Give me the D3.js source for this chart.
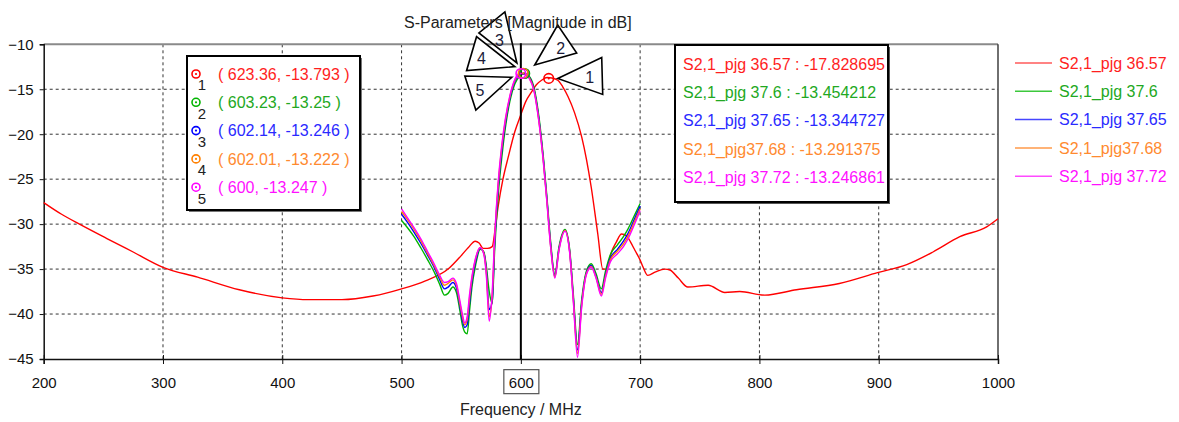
<!DOCTYPE html>
<html><head><meta charset="utf-8">
<script src="https://cdn.jsdelivr.net/npm/d3@7"></script>
<style>
html,body{margin:0;padding:0;background:#fff;}
svg{display:block;font-family:"Liberation Sans",Arial,sans-serif;}
</style></head>
<body><svg id="chart" width="1179" height="422"></svg>
<script>
// ---------- data ----------
const seriesNames = ["S2,1_pjg 36.57","S2,1_pjg 37.6","S2,1_pjg 37.65","S2,1_pjg37.68","S2,1_pjg 37.72"];
const seriesColors = ["#ff0000","#00b400","#0000ff","#ff8000","#ff00ff"];
const legendLineColors = ["#ff5a5a","#3cc83c","#4646ff","#ff9a4a","#ff4aff"];
const textColors = ["#ff1e1e","#22a822","#2a2aff","#ff8a30","#ff10ff"];

const freqWide = [200,215,230,253,275,300,329,364,400,422,450,476,500,520,539,550,556,561.7,565,568.5,572,576,578.5,581,585,589.5,595,600,604,609,613,617.4,622,626,631,635,639.5,645,651,655,659,664.5,668.7,671.8,676,680,684.4,688.6,692,695.6,700,702.5,706.4,713,720.7,725,732,740,757,771,783.5,804.5,831,867,899,923.5,945.5,968,990.5,1000];
const s3657 = [-27.6,-28.9,-30.0,-31.6,-33.1,-34.8,-35.9,-37.3,-38.2,-38.4,-38.4,-38.0,-37.2,-36.3,-35.0,-33.5,-32.6,-31.9,-32.1,-32.7,-32.7,-32.5,-30.5,-28.0,-25.0,-22.5,-19.7,-17.83,-16.4,-15.3,-14.5,-14.0,-13.7,-13.75,-14.0,-14.7,-15.8,-17.6,-20.3,-22.8,-25.9,-31.1,-35.0,-35.0,-33.1,-32.0,-31.1,-31.3,-32.0,-32.9,-34.0,-34.8,-35.7,-35.3,-35.0,-35.1,-36.0,-37.0,-36.8,-37.6,-37.5,-37.9,-37.3,-36.6,-35.4,-34.5,-33.1,-31.4,-30.3,-29.4];

const freqBand = [500,505,510,516,522,528,532,536,539,543,546,549,551,553,555,557,559,562,566,569,571,573.5,576,578,581,584,587,591,595,599,601,603,607,611,615,619,622,625,628.5,632,637,641,644,647.5,651,655,659,663,667.5,671,675,681,686,690,695,700];
const s376  = [-29.6,-30.4,-31.3,-32.6,-34.0,-35.5,-36.7,-37.9,-37.7,-37.0,-37.6,-39.7,-41.2,-42.0,-42.2,-39.6,-37.0,-34.6,-32.8,-33.1,-34.6,-37.5,-38.8,-33.0,-26.8,-22.6,-19.3,-16.2,-14.4,-13.55,-13.35,-13.25,-13.55,-14.8,-17.9,-22.7,-27.2,-32.0,-35.6,-32.5,-30.6,-32.9,-37.8,-43.4,-38.4,-35.2,-34.4,-35.5,-37.2,-35.2,-33.4,-32.3,-31.4,-30.5,-29.1,-27.7];
const s3765 = [-28.9,-29.8,-30.8,-32.1,-33.5,-35.0,-36.2,-37.2,-37.0,-36.5,-37.1,-39.2,-40.7,-41.5,-41.2,-38.8,-36.4,-34.2,-32.7,-33.2,-35.0,-39.5,-38.6,-32.3,-26.0,-21.9,-18.8,-15.9,-14.1,-13.35,-13.26,-13.27,-13.65,-15.0,-18.2,-23.0,-27.5,-32.3,-35.8,-32.7,-30.7,-33.1,-38.2,-44.0,-38.8,-35.4,-34.6,-35.8,-37.6,-35.6,-33.8,-32.8,-31.9,-31.0,-29.5,-28.0];
const s3768 = [-28.6,-29.5,-30.5,-31.8,-33.3,-34.8,-35.9,-36.8,-36.6,-36.2,-36.8,-38.9,-40.3,-41.2,-40.6,-38.2,-36.0,-33.9,-32.6,-33.3,-35.3,-40.3,-38.0,-31.8,-25.6,-21.5,-18.5,-15.7,-14.0,-13.3,-13.23,-13.25,-13.7,-15.1,-18.4,-23.2,-27.7,-32.5,-35.9,-32.8,-30.7,-33.2,-38.4,-44.4,-39.0,-35.5,-34.7,-35.9,-37.8,-35.8,-34.0,-33.0,-32.2,-31.3,-29.8,-28.3];
const s3772 = [-28.3,-29.3,-30.3,-31.6,-33.1,-34.6,-35.7,-36.5,-36.4,-36.0,-36.6,-38.6,-40.0,-41.0,-40.3,-37.8,-35.8,-33.8,-32.6,-33.4,-35.6,-40.8,-37.5,-31.5,-25.3,-21.2,-18.3,-15.6,-13.9,-13.28,-13.25,-13.3,-13.8,-15.2,-18.5,-23.3,-27.8,-32.6,-36.0,-32.9,-30.8,-33.3,-38.6,-44.8,-39.2,-35.6,-34.8,-36.0,-38.0,-36.0,-34.2,-33.3,-32.5,-31.6,-30.1,-28.5];

const markerIds = [1,2,3,4,5];
const markerFreq = [623.36,603.23,602.14,602.01,600];
const markerVal = [-13.793,-13.25,-13.246,-13.222,-13.247];
const markerLabels = ["( 623.36, -13.793 )","( 603.23, -13.25 )","( 602.14, -13.246 )","( 602.01, -13.222 )","( 600, -13.247 )"];
const cursorFreq = 600;
const cursorVals = ["-17.828695","-13.454212","-13.344727","-13.291375","-13.246861"];

const xTicks = [200,300,400,500,600,700,800,900,1000];
const yTicks = [-10,-15,-20,-25,-30,-35,-40,-45];
const titleText = "S-Parameters [Magnitude in dB]";
const xLabelText = "Frequency / MHz";

// ---------- layout ----------
const svg = d3.select("#chart");
const L = 43.7, R = 998, T = 44.3, B = 359;
const x = d3.scaleLinear().domain([200,1000]).range([L,R]);
const y = d3.scaleLinear().domain([-45,-10]).range([B,T]);

// grid
const g = svg.append("g");
g.selectAll(".vg").data(xTicks.filter(d=>d>200&&d<1000&&d!==cursorFreq)).enter().append("line")
  .attr("x1",d=>x(d)).attr("x2",d=>x(d)).attr("y1",T).attr("y2",B)
  .attr("stroke","#333").attr("stroke-width",1).attr("stroke-dasharray","3,3");
g.selectAll(".hg").data(yTicks.filter(d=>d>-45&&d<-10)).enter().append("line")
  .attr("x1",L).attr("x2",R).attr("y1",d=>y(d)).attr("y2",d=>y(d))
  .attr("stroke","#333").attr("stroke-width",1).attr("stroke-dasharray","3,3");

// frame
svg.append("line").attr("x1",L).attr("x2",R).attr("y1",T).attr("y2",T).attr("stroke","#8a8a8a").attr("stroke-width",2);
svg.append("line").attr("x1",R).attr("x2",R).attr("y1",T).attr("y2",B).attr("stroke","#222").attr("stroke-width",1.3);

// axes
const xAxis = d3.axisBottom(x).tickValues(xTicks).tickSize(5).tickPadding(13).tickFormat(d3.format("d"));
const xa = svg.append("g").attr("transform",`translate(0,${B})`).call(xAxis);
xa.select(".domain").attr("stroke","#111").attr("stroke-width",1.5);
xa.selectAll(".tick line").attr("stroke","#111").attr("y1",-4);
xa.selectAll("text").attr("font-size",15).attr("fill","#111").attr("font-family","Liberation Sans, Arial, sans-serif");

const yAxis = d3.axisLeft(y).tickValues(yTicks).tickSize(4).tickPadding(6).tickFormat(d3.format("d"));
const ya = svg.append("g").attr("transform",`translate(${L},0)`).call(yAxis);
ya.select(".domain").attr("stroke","#111").attr("stroke-width",1.5);
ya.selectAll(".tick line").attr("stroke","#111");
ya.selectAll("text").attr("font-size",15).attr("fill","#111").attr("font-family","Liberation Sans, Arial, sans-serif");

// boxed cursor tick label
xa.selectAll(".tick").filter(d=>d===cursorFreq).each(function(){
  const t = d3.select(this).select("text");
  const bb = t.node().getBBox();
  d3.select(this).insert("rect","text").attr("x",bb.x-5).attr("y",bb.y-4).attr("width",bb.width+10).attr("height",bb.height+7)
    .attr("fill","#fff").attr("stroke","#555").attr("stroke-width",1.2);
});

// axis label
svg.append("text").attr("x",x(600)).attr("y",415).attr("text-anchor","middle").attr("font-size",16).attr("fill","#222").text(xLabelText);

// curves
const lineGen = d3.line().x(d=>x(d[0])).y(d=>y(d[1])).curve(d3.curveMonotoneX);
const curves = [
  {f:freqWide, v:s3657},
  {f:freqBand, v:s376},
  {f:freqBand, v:s3765},
  {f:freqBand, v:s3768},
  {f:freqBand, v:s3772}
];
curves.forEach((c,i)=>{
  svg.append("path").datum(c.f.map((f,j)=>[f,c.v[j]]))
    .attr("d",lineGen).attr("fill","none").attr("stroke",seriesColors[i]).attr("stroke-width",1.4)
    .attr("stroke-linejoin","round");
});

// cursor line
svg.append("line").attr("x1",x(cursorFreq)).attr("x2",x(cursorFreq)).attr("y1",T-1).attr("y2",B)
  .attr("stroke","#000").attr("stroke-width",2);

// markers on curves
function markerSym(sel, cx, cy, col, r){
  sel.append("circle").attr("cx",cx).attr("cy",cy).attr("r",r).attr("fill","none").attr("stroke",col).attr("stroke-width",1.6);
  sel.append("circle").attr("cx",cx).attr("cy",cy).attr("r",1.1).attr("fill",col);
}
const mg = svg.append("g");
[1,2,3,0,4].forEach(i=>{
  markerSym(mg, x(markerFreq[i]), y(markerVal[i]), seriesColors[i], 4.8);
});

// callout triangles (offsets relative to each marker)
const callouts = [
  {tip:[9,0],  a:[53,-21], b:[54,16],   lab:[41,-1]},
  {tip:[10,-8.5], a:[33,-48.5], b:[52,-20.5], lab:[36,-25.5]},
  {tip:[-6.5,-10.5], a:[-18.5,-61.5], b:[-44.5,-40.5], lab:[-24,-33]},
  {tip:[-8.4,-6.6], a:[-46.7,-36.6], b:[-56.7,-2.6], lab:[-41.7,-15]},
  {tip:[-9,3.8], a:[-56,2.5], b:[-45,36.5], lab:[-41,16.5]}
];
const cg = svg.append("g");
[2,3,4,1,0].forEach(i=>{
  const cx = x(markerFreq[i]), cy = y(markerVal[i]);
  const c = callouts[i];
  const pts = [c.tip,c.a,c.b].map(p=>[cx+p[0],cy+p[1]]);
  cg.append("path").attr("d",d3.line()(pts)+"Z").attr("fill","#fff").attr("fill-opacity",i===2?0:1).attr("stroke","#000").attr("stroke-width",1.6).attr("stroke-linejoin","miter");
  cg.append("text").attr("x",cx+c.lab[0]).attr("y",cy+c.lab[1]).attr("dy","0.36em").attr("text-anchor","middle")
    .attr("font-size",16).attr("fill","#1c1c3a").text(markerIds[i]);
});

// title (on top, as in the reference)
svg.append("text").attr("x",x(600)-3).attr("y",28).attr("text-anchor","middle").attr("font-size",16).attr("fill","#222").text(titleText);

// left marker box
const lb = svg.append("g");
lb.append("rect").attr("x",189).attr("y",58).attr("width",173).attr("height",154).attr("fill","#777");
lb.append("rect").attr("x",187).attr("y",56).attr("width",173).attr("height",154).attr("fill","#fff").attr("stroke","#000").attr("stroke-width",2);
markerIds.forEach((m,i)=>{
  const ry = 74 + i*28.3;
  markerSym(lb, 196, ry, seriesColors[i], 4);
  lb.append("text").attr("x",202).attr("y",ry+11).attr("dy","0.36em").attr("text-anchor","middle").attr("font-size",15).attr("fill","#222").text(m);
  lb.append("text").attr("x",218).attr("y",ry).attr("dy","0.36em").attr("font-size",16).attr("fill",textColors[i]).text(markerLabels[i]);
});

// cursor value box
const rb = svg.append("g");
rb.append("rect").attr("x",677).attr("y",47).attr("width",213).attr("height",157).attr("fill","#555");
rb.append("rect").attr("x",675).attr("y",45).attr("width",213).attr("height",157).attr("fill","#fff").attr("stroke","#000").attr("stroke-width",2);
seriesNames.forEach((n,i)=>{
  rb.append("text").attr("x",683).attr("y",64+i*28.3).attr("dy","0.36em").attr("font-size",16).attr("fill",textColors[i])
    .text(n+" : "+cursorVals[i]);
});

// legend
const lg = svg.append("g");
seriesNames.forEach((n,i)=>{
  const ry = 63 + i*28.3;
  lg.append("line").attr("x1",1015).attr("x2",1052).attr("y1",ry).attr("y2",ry).attr("stroke",legendLineColors[i]).attr("stroke-width",1.5);
  lg.append("text").attr("x",1059).attr("y",ry).attr("dy","0.36em").attr("font-size",16).attr("fill",textColors[i]).text(n);
});
</script></body></html>
